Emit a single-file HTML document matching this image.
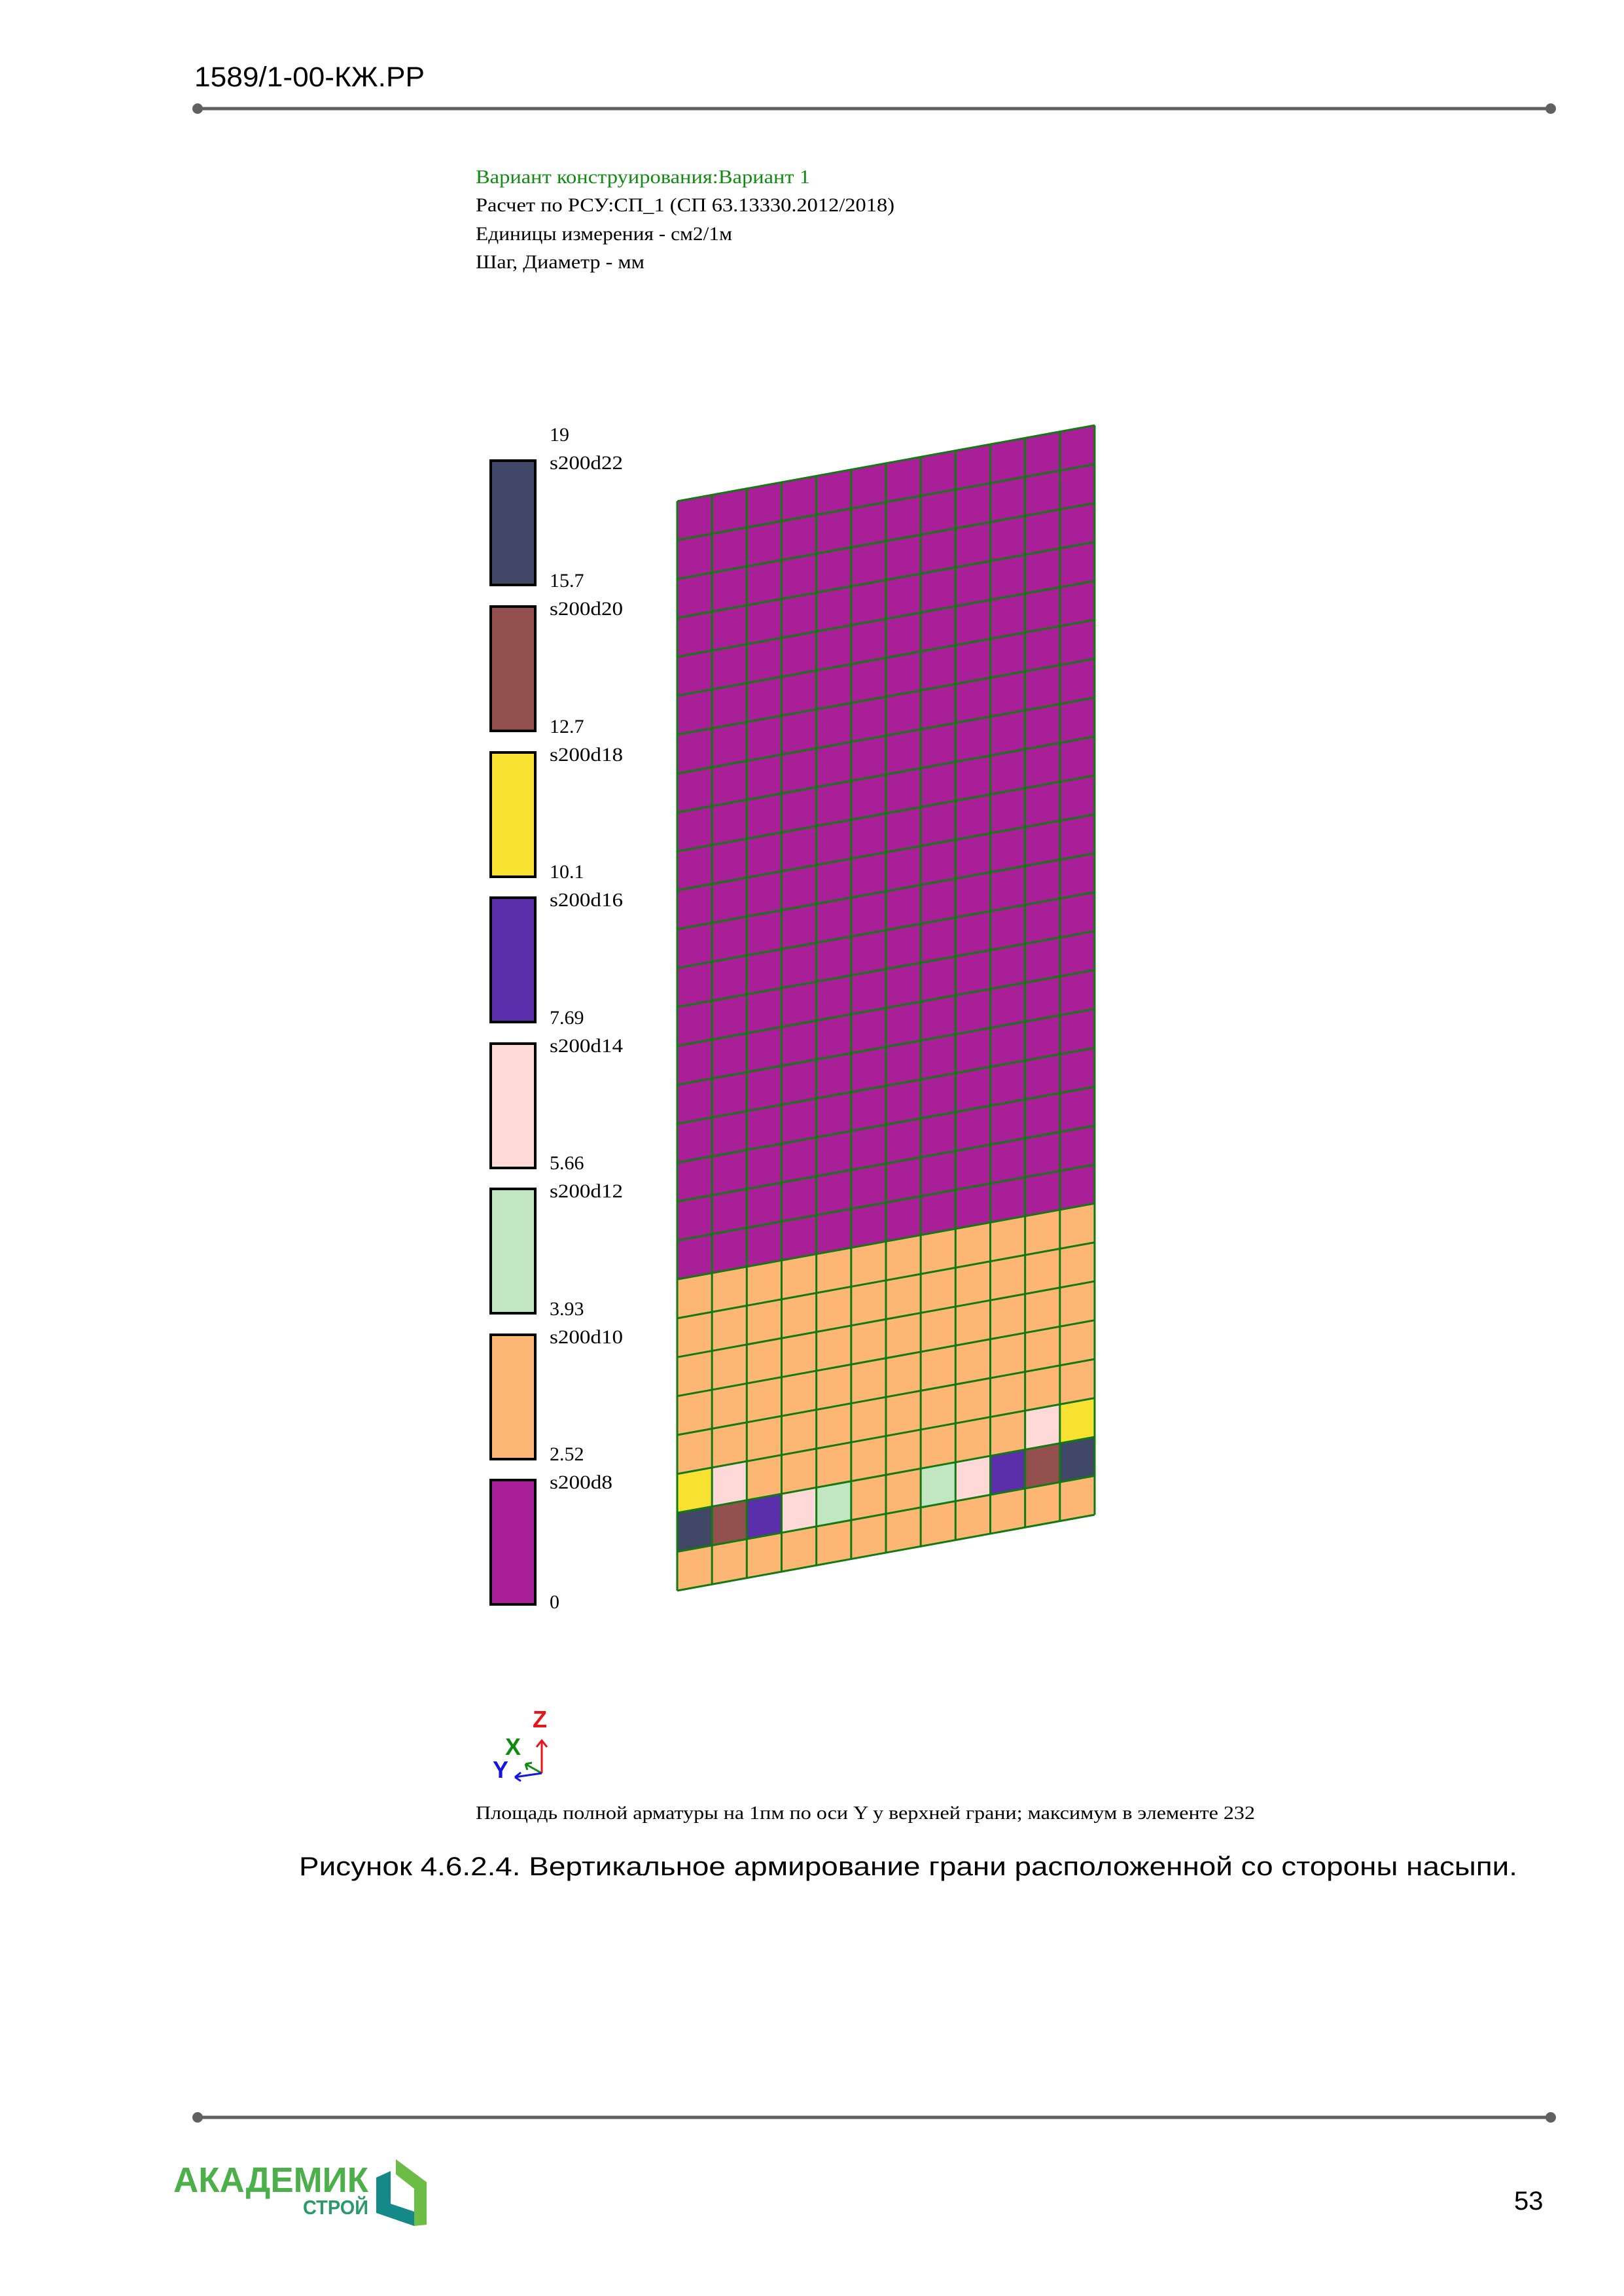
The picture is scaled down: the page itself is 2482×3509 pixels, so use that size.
<!DOCTYPE html>
<html><head><meta charset="utf-8"><style>
html,body{margin:0;padding:0;background:#fff}
svg{display:block}
</style></head><body>
<svg xmlns="http://www.w3.org/2000/svg" width="2482" height="3509" viewBox="0 0 2482 3509">
<rect width="2482" height="3509" fill="#fff"/>
<!-- header -->
<text x="297" y="132" font-family="Liberation Sans, sans-serif" font-size="43" fill="#000" textLength="352" lengthAdjust="spacingAndGlyphs">1589/1-00-КЖ.РР</text>
<line x1="302" y1="166" x2="2370" y2="166" stroke="#606060" stroke-width="5"/>
<circle cx="302" cy="166" r="8" fill="#606060"/>
<circle cx="2370" cy="166" r="8" fill="#606060"/>
<!-- title block -->
<g font-family="Liberation Serif, serif" font-size="30">
<text x="727" y="280" fill="#138a13" textLength="511" lengthAdjust="spacingAndGlyphs">Вариант конструирования:Вариант 1</text>
<text x="727" y="323" fill="#000" textLength="640" lengthAdjust="spacingAndGlyphs">Расчет по РСУ:СП_1 (СП 63.13330.2012/2018)</text>
<text x="727" y="367" fill="#000" textLength="392" lengthAdjust="spacingAndGlyphs">Единицы измерения - см2/1м</text>
<text x="727" y="410" fill="#000" textLength="258" lengthAdjust="spacingAndGlyphs">Шаг, Диаметр - мм</text>
</g>
<!-- legend -->
<g stroke="#000" stroke-width="4">
<rect x="750" y="704" width="68" height="190" fill="#414766"/>
<rect x="750" y="927" width="68" height="190" fill="#93504e"/>
<rect x="750" y="1150" width="68" height="190" fill="#f9e132"/>
<rect x="750" y="1372" width="68" height="190" fill="#5b2fab"/>
<rect x="750" y="1595" width="68" height="190" fill="#ffd8d8"/>
<rect x="750" y="1817" width="68" height="190" fill="#c1e6c1"/>
<rect x="750" y="2040" width="68" height="190" fill="#fdb674"/>
<rect x="750" y="2262" width="68" height="190" fill="#a91f98"/>
</g>
<g font-family="Liberation Serif, serif" font-size="30" fill="#000">
<text x="840" y="674">19</text><text x="840" y="717" textLength="112" lengthAdjust="spacingAndGlyphs">s200d22</text>
<text x="840" y="897">15.7</text><text x="840" y="940" textLength="112" lengthAdjust="spacingAndGlyphs">s200d20</text>
<text x="840" y="1120">12.7</text><text x="840" y="1163" textLength="112" lengthAdjust="spacingAndGlyphs">s200d18</text>
<text x="840" y="1342">10.1</text><text x="840" y="1385" textLength="112" lengthAdjust="spacingAndGlyphs">s200d16</text>
<text x="840" y="1565">7.69</text><text x="840" y="1608" textLength="112" lengthAdjust="spacingAndGlyphs">s200d14</text>
<text x="840" y="1787">5.66</text><text x="840" y="1830" textLength="112" lengthAdjust="spacingAndGlyphs">s200d12</text>
<text x="840" y="2010">3.93</text><text x="840" y="2053" textLength="112" lengthAdjust="spacingAndGlyphs">s200d10</text>
<text x="840" y="2232">2.52</text><text x="840" y="2275" textLength="96" lengthAdjust="spacingAndGlyphs">s200d8</text>
<text x="840" y="2458">0</text>
</g>
<!-- grid -->
<g transform="matrix(53.1667 -9.6667 0 59.464 1035 766)">
<rect x="0" y="0" width="12" height="20" fill="#a91f98"/>
<rect x="0" y="20" width="12" height="8" fill="#fdb674"/>
<rect x="0" y="25" width="1" height="1" fill="#f9e132"/>
<rect x="1" y="25" width="1" height="1" fill="#ffd8d8"/>
<rect x="10" y="25" width="1" height="1" fill="#ffd8d8"/>
<rect x="11" y="25" width="1" height="1" fill="#f9e132"/>
<rect x="0" y="26" width="1" height="1" fill="#414766"/>
<rect x="1" y="26" width="1" height="1" fill="#93504e"/>
<rect x="2" y="26" width="1" height="1" fill="#5b2fab"/>
<rect x="3" y="26" width="1" height="1" fill="#ffd8d8"/>
<rect x="4" y="26" width="1" height="1" fill="#c1e6c1"/>
<rect x="7" y="26" width="1" height="1" fill="#c1e6c1"/>
<rect x="8" y="26" width="1" height="1" fill="#ffd8d8"/>
<rect x="9" y="26" width="1" height="1" fill="#5b2fab"/>
<rect x="10" y="26" width="1" height="1" fill="#93504e"/>
<rect x="11" y="26" width="1" height="1" fill="#414766"/>
<path fill="none" stroke="#117a11" stroke-width="3" vector-effect="non-scaling-stroke" d="M0 0V28M1 0V28M2 0V28M3 0V28M4 0V28M5 0V28M6 0V28M7 0V28M8 0V28M9 0V28M10 0V28M11 0V28M12 0V28
M0 0H12M0 1H12M0 2H12M0 3H12M0 4H12M0 5H12M0 6H12M0 7H12M0 8H12M0 9H12M0 10H12M0 11H12M0 12H12M0 13H12M0 14H12
M0 15H12M0 16H12M0 17H12M0 18H12M0 19H12M0 20H12M0 21H12M0 22H12M0 23H12M0 24H12M0 25H12M0 26H12M0 27H12M0 28H12"/>
</g>
<!-- axis icon -->
<g font-family="Liberation Sans, sans-serif" font-weight="bold" font-size="36">
<text x="814" y="2640" fill="#e8141a">Z</text>
<text x="772" y="2682" fill="#118a11">X</text>
<text x="753" y="2717" fill="#1515e0">Y</text>
</g>
<path d="M828 2710V2660M820 2670L828 2660L836 2670" stroke="#e8141a" stroke-width="3" fill="none"/>
<path d="M828 2710L803 2696M803 2696L813 2694M803 2696L806 2705" stroke="#118a11" stroke-width="3" fill="none"/>
<path d="M828 2710L787 2716M787 2716L796 2709M787 2716L796 2722" stroke="#1515e0" stroke-width="3" fill="none"/>
<!-- captions -->
<text x="727" y="2780" font-family="Liberation Serif, serif" font-size="29" fill="#000" textLength="1191" lengthAdjust="spacingAndGlyphs">Площадь полной арматуры на 1пм по оси Y у верхней грани; максимум в элементе 232</text>
<text x="457" y="2866" font-family="Liberation Sans, sans-serif" font-size="40" fill="#000" textLength="1862" lengthAdjust="spacingAndGlyphs">Рисунок 4.6.2.4. Вертикальное армирование грани расположенной со стороны насыпи.</text>
<!-- footer -->
<line x1="302" y1="3236" x2="2370" y2="3236" stroke="#606060" stroke-width="5"/>
<circle cx="302" cy="3236" r="8" fill="#606060"/>
<circle cx="2370" cy="3236" r="8" fill="#606060"/>
<text x="265" y="3350" font-family="Liberation Sans, sans-serif" font-weight="bold" font-size="54" fill="#4bb04a" textLength="298" lengthAdjust="spacingAndGlyphs">АКАДЕМИК</text>
<text x="463" y="3384" font-family="Liberation Sans, sans-serif" font-weight="bold" font-size="31" fill="#2a9a6a" textLength="100" lengthAdjust="spacingAndGlyphs">СТРОЙ</text>
<polygon points="575,3328 597,3318 597,3368 633,3380 633,3402 575,3382" fill="#15888a"/>
<polygon points="605,3300 652,3335 652,3400 633,3402 633,3345 605,3323" fill="#6cbd45"/>
<text x="2314" y="3377" font-family="Liberation Sans, sans-serif" font-size="40" fill="#000">53</text>
</svg>
</body></html>
